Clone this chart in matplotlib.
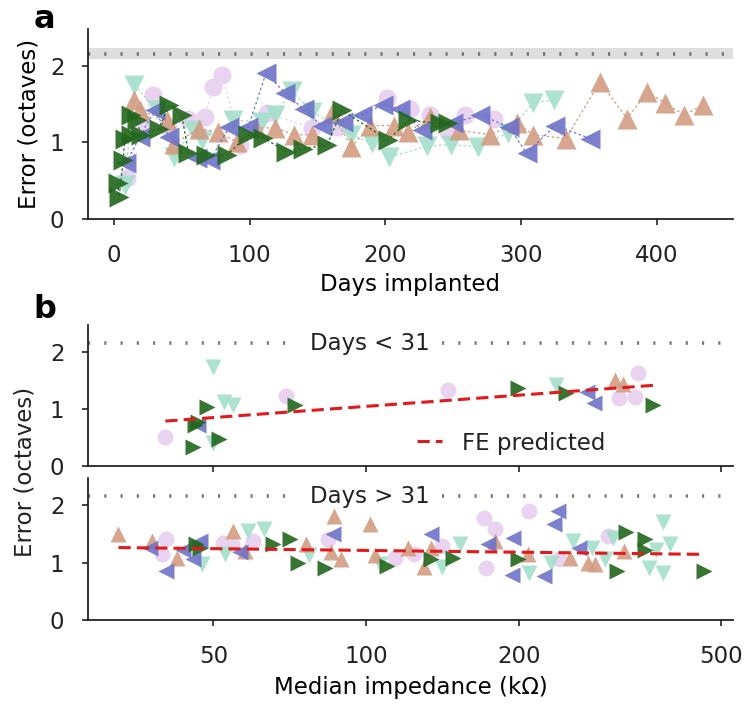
import matplotlib
matplotlib.use("Agg")
import matplotlib.pyplot as plt
from matplotlib.ticker import FixedLocator, NullLocator, FixedFormatter
import numpy as np

plt.rcParams['font.family'] = ['DejaVu Sans']

# ---------------- Panel a: error vs days implanted (one series per subject) ----------------
pink_days = [10, 20, 29, 40, 55, 67, 73, 80, 93, 113, 146, 165, 201, 218, 233, 246, 259, 280]
pink_err = [0.53, 1.25, 1.62, 1.20, 1.30, 1.33, 1.72, 1.88, 0.97, 1.38, 1.19, 1.20, 1.58, 1.44, 1.36, 1.14, 1.36, 1.30]

mint_days = [8, 15, 32, 44, 58, 65, 88, 109, 119, 131, 146, 175, 190, 203, 231, 248, 268, 290, 309, 324]
mint_err = [0.45, 1.75, 1.42, 0.81, 1.16, 1.03, 1.29, 1.27, 1.36, 1.67, 1.40, 1.10, 0.99, 0.81, 0.95, 0.97, 0.94, 1.12, 1.52, 1.55]

salmon_days = [15, 19, 39, 44, 63, 77, 91, 105, 119, 133, 146, 161, 175, 189, 206, 217, 233, 254, 277, 297, 309, 333,
               358, 378, 393, 406, 420, 434]
salmon_err = [1.55, 1.42, 1.29, 0.98, 1.18, 1.14, 1.00, 1.19, 1.19, 1.10, 1.10, 1.38, 0.94, 1.22, 1.22, 1.14, 1.33, 1.16,
              1.10, 1.25, 1.10, 1.05, 1.79, 1.31, 1.66, 1.51, 1.36, 1.49]

blue_days = [9, 19, 30, 41, 61, 71, 85, 99, 112, 126, 140, 153, 169, 183, 198, 211, 227, 250, 270, 291, 304, 325, 351]
blue_err = [0.73, 1.07, 1.42, 1.07, 0.79, 0.77, 1.20, 1.20, 1.90, 1.65, 1.43, 1.22, 1.27, 1.36, 1.49, 1.44, 1.16, 1.25,
            1.36, 1.20, 0.86, 1.22, 1.05]

green_days = [3, 4, 7, 8, 13, 13, 17, 20, 33, 41, 50, 55, 68, 83, 99, 110, 127, 139, 157, 168, 202, 217, 240, 246]
green_err = [0.47, 0.29, 0.77, 1.05, 1.10, 1.36, 1.29, 1.10, 1.18, 1.49, 1.36, 0.86, 0.83, 0.83, 1.10, 1.06, 0.88, 0.92,
             0.96, 1.42, 1.03, 1.29, 1.25, 1.25]

chance_level = 2.16
chance_band = (2.09, 2.23)

# ---------------- Panel b: error vs median impedance ----------------
# Days < 31
early_pink_imp = [40.2, 69.6, 145, 315, 338, 343]
early_pink_err = [0.51, 1.24, 1.33, 1.19, 1.22, 1.63]
early_mint_imp = [50, 52.4, 54.6, 49.8, 237]
early_mint_err = [1.74, 1.13, 1.07, 0.40, 1.42]
early_salmon_imp = [309, 321]
early_salmon_err = [1.51, 1.45]
early_blue_imp = [46.7, 272, 281]
early_blue_err = [0.72, 1.30, 1.10]
early_green_imp = [48.6, 46.7, 46.0, 45.6, 51.2, 72.5, 199, 248, 368]
early_green_err = [1.04, 0.77, 0.72, 0.33, 0.48, 1.07, 1.37, 1.28, 1.07]

# Days > 31
late_pink_imp = [39.6, 40.4, 52.1, 54.3, 59.9, 84.1, 114, 124, 141, 171, 179, 172, 209, 240, 300]
late_pink_err = [1.15, 1.41, 1.35, 1.32, 1.38, 1.41, 1.09, 1.15, 1.29, 1.78, 1.59, 0.90, 1.91, 1.06, 1.47]
late_mint_imp = [47.5, 52.8, 58.6, 63, 77.3, 106.3, 141, 153, 209, 231, 255, 279, 296, 307, 361, 372, 385, 385, 397]
late_mint_err = [0.97, 1.15, 1.56, 1.59, 1.13, 0.97, 0.92, 1.32, 0.82, 1.00, 1.38, 1.26, 1.06, 1.44, 0.91, 1.23, 1.71,
                 0.82, 1.32]
late_salmon_imp = [32.4, 37.9, 42.3, 54.6, 57.8, 76.0, 85.4, 86.5, 89.1, 101.6, 104, 121, 130, 134, 179, 208, 252, 273,
                   282, 322]
late_salmon_err = [1.50, 1.38, 1.09, 1.56, 1.20, 1.33, 1.18, 1.82, 1.06, 1.68, 1.13, 1.26, 0.92, 1.26, 1.38, 1.15, 1.09,
                   1.00, 0.97, 1.20]
late_blue_imp = [37.5, 40.4, 43.6, 45.6, 47.1, 56.5, 86, 134, 174, 195, 194, 224, 234, 239, 262]
late_blue_err = [1.26, 0.85, 1.23, 1.06, 1.38, 1.18, 1.50, 1.50, 1.32, 1.44, 0.79, 0.76, 1.68, 1.91, 1.26]
late_green_imp = [46.1, 47.1, 65.5, 70.6, 73.3, 82.8, 110, 134, 148, 199, 312, 325, 355, 355, 462]
late_green_err = [1.32, 1.26, 1.32, 1.42, 1.00, 0.90, 0.94, 1.06, 1.09, 1.06, 0.85, 1.53, 1.41, 1.23, 0.85]

# Fixed-effects fits: err = intercept + slope * log10(impedance)
early_fit = dict(intercept=-0.259, slope=0.654, xmin=40.2, xmax=370)
late_fit = dict(intercept=1.421, slope=-0.103, xmin=32.5, xmax=460)

# ---------------- styling ----------------
C_PINK = '#e9d3f1'
C_MINT = '#a3dfca'
C_SALMON = '#d39c82'
C_BLUE = '#6e73c8'
C_GREEN = '#22661d'
C_RED = '#e31a1c'

styles = [
    ('pink', C_PINK, 'o'),
    ('mint', C_MINT, 'v'),
    ('salmon', C_SALMON, '^'),
    ('blue', C_BLUE, '<'),
    ('green', C_GREEN, '>'),
]

FS = 16.5
fig = plt.figure(figsize=(7.5, 7.09), dpi=100)
W, H = 750, 709


def ax_rect(l, t, r, b):
    return [l / W, 1 - b / H, (r - l) / W, (b - t) / H]


def style_axes(ax):
    for s in ['top', 'right']:
        ax.spines[s].set_visible(False)
    for s in ['left', 'bottom']:
        ax.spines[s].set_linewidth(1.3)
        ax.spines[s].set_color('#222222')
    ax.tick_params(axis='both', direction='out', length=4, width=1.2, color='#222222',
                   labelsize=FS, labelcolor='#222222')
    ax.tick_params(axis='x', pad=14)
    ax.tick_params(axis='y', pad=13)


# Panel a
axa = fig.add_axes(ax_rect(88, 29, 733, 219))
style_axes(axa)
axa.axhspan(*chance_band, color='#dedede', zorder=0, lw=0)
axa.axhline(chance_level, color='#707070', lw=2.6, linestyle=(0, (0.6, 3.9)), zorder=1)

series_a = {
    'pink': (pink_days, pink_err),
    'mint': (mint_days, mint_err),
    'salmon': (salmon_days, salmon_err),
    'blue': (blue_days, blue_err),
    'green': (green_days, green_err),
}
for i, (name, col, mk) in enumerate(styles):
    d, e = series_a[name]
    axa.plot(d, e, color=col, lw=0.9, linestyle=(0, (2, 2)), zorder=2 + i)
    ms = 13 if mk == 'o' else 14
    axa.plot(d, e, linestyle='none', marker=mk, ms=ms, color=col, mec='none',
             alpha=0.9 if name != 'pink' else 1.0, zorder=2 + i)

axa.set_xlim(-19, 456)
axa.set_ylim(0, 2.48)
axa.set_xticks([0, 100, 200, 300, 400])
axa.set_yticks([0, 1, 2])
axa.set_xlabel('Days implanted', fontsize=FS, labelpad=4)
axa.set_ylabel('Error (octaves)', fontsize=FS, labelpad=7)
fig.text(44 / W, 1 - 20 / H, 'a', fontsize=23, fontweight='bold', ha='center', va='center')

# Panel b
axb1 = fig.add_axes(ax_rect(88, 325, 733, 466))
axb2 = fig.add_axes(ax_rect(88, 478, 733, 620))

early = {
    'pink': (early_pink_imp, early_pink_err),
    'mint': (early_mint_imp, early_mint_err),
    'salmon': (early_salmon_imp, early_salmon_err),
    'blue': (early_blue_imp, early_blue_err),
    'green': (early_green_imp, early_green_err),
}
late = {
    'pink': (late_pink_imp, late_pink_err),
    'mint': (late_mint_imp, late_mint_err),
    'salmon': (late_salmon_imp, late_salmon_err),
    'blue': (late_blue_imp, late_blue_err),
    'green': (late_green_imp, late_green_err),
}

for ax, data, fit, label in [(axb1, early, early_fit, 'Days < 31'), (axb2, late, late_fit, 'Days > 31')]:
    style_axes(ax)
    ax.set_xscale('log')
    ax.set_xlim(28.3, 528)
    ax.set_ylim(0, 2.48)
    # chance line interrupted by label
    ax.axhline(chance_level, xmin=0.0, xmax=0.326, color='#7a7a7a', lw=2.6,
               linestyle=(0, (0.6, 3.9)), zorder=1)
    ax.axhline(chance_level, xmin=0.549, xmax=1.0, color='#7a7a7a', lw=2.6,
               linestyle=(0, (0.6, 3.9)), zorder=1)
    ax.text(0.437, chance_level, label, transform=ax.get_yaxis_transform(),
            ha='center', va='center', fontsize=FS, color='#222222')
    for i, (name, col, mk) in enumerate(styles):
        x, y = data[name]
        ms = 11.5 if mk == 'o' else 12
        ax.plot(x, y, linestyle='none', marker=mk, ms=ms, color=col, mec='none',
                alpha=0.9 if name != 'pink' else 1.0, zorder=2 + i)
    xs = np.logspace(np.log10(fit['xmin']), np.log10(fit['xmax']), 50)
    ax.plot(xs, fit['intercept'] + fit['slope'] * np.log10(xs), color=C_RED, lw=2.2,
            linestyle=(0, (4, 2)), zorder=10, label='FE predicted')
    ax.xaxis.set_major_locator(FixedLocator([50, 100, 200, 500]))
    ax.xaxis.set_minor_locator(NullLocator())
    ax.set_yticks([0, 1, 2])

axb1.xaxis.set_major_formatter(FixedFormatter(['', '', '', '']))
axb2.xaxis.set_major_formatter(FixedFormatter(['50', '100', '200', '500']))
axb2.set_xlabel('Median impedance (k\u03a9)', fontsize=FS, labelpad=6)

# shared y label for panel b
fig.text(25 / W, 1 - 472 / H, 'Error (octaves)', rotation=90, fontsize=FS, color='#222222',
         ha='center', va='center')

leg = axb1.legend(loc='center', bbox_to_anchor=(0.656, 0.163), frameon=False, fontsize=FS,
                  handlelength=1.1, handletextpad=0.9, borderpad=0.1)
for t in leg.get_texts():
    t.set_color('#222222')

fig.text(45 / W, 1 - 310 / H, 'b', fontsize=23, fontweight='bold', ha='center', va='center')

fig.savefig('out.png', dpi=100)
